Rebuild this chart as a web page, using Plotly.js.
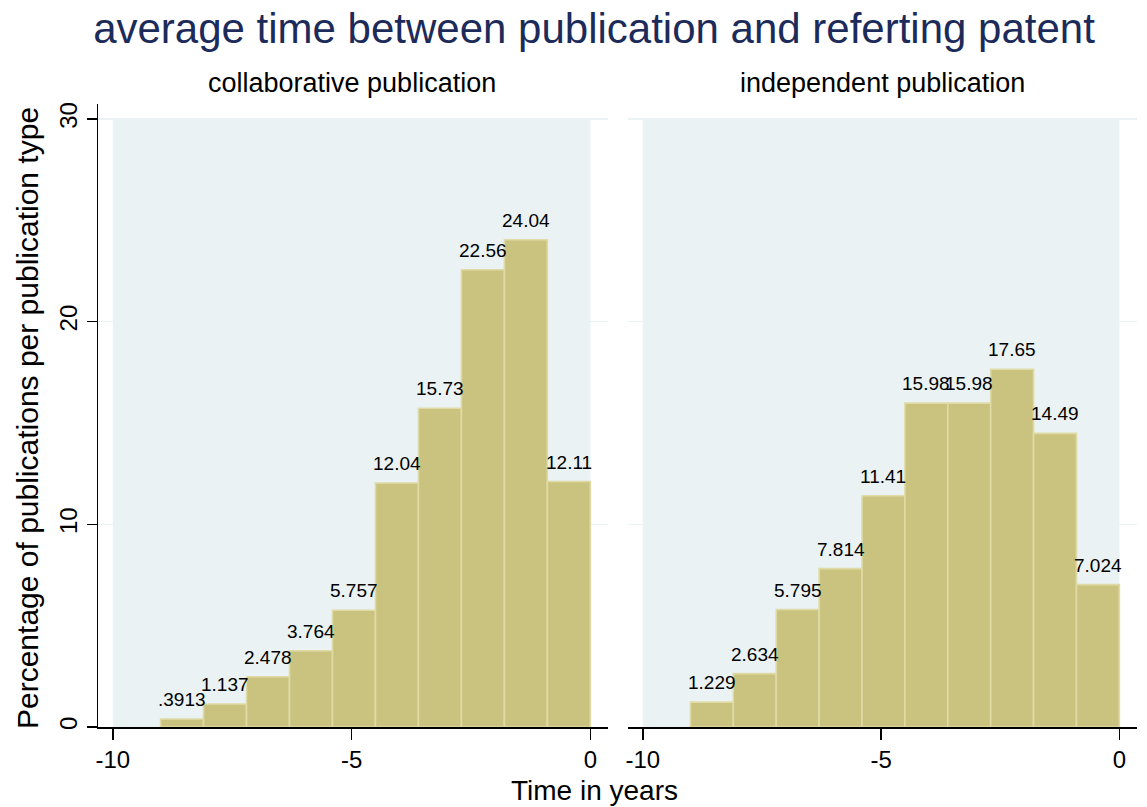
<!DOCTYPE html>
<html>
<head>
<meta charset="utf-8">
<script src="https://cdn.plot.ly/plotly-3.0.1.min.js"></script>
<style>html,body{margin:0;padding:0;background:#fff;}#chart{width:1147px;height:807px;}</style>
</head>
<body>
<div id="chart"></div>
<script>
// Bin left edges (years), bin width 0.9
const binStarts = [-9, -8.1, -7.2, -6.3, -5.4, -4.5, -3.6, -2.7, -1.8, -0.9];
const collaborative = [0.3913, 1.137, 2.478, 3.764, 5.757, 12.04, 15.73, 22.56, 24.04, 12.11];
const independent = [1.229, 2.634, 5.795, 7.814, 11.41, 15.98, 15.98, 17.65, 14.49, 7.024];
const yTicks = [0, 10, 20, 30];
const xTicks = [-10, -5, 0];
const panelTitles = ["collaborative publication", "independent publication"];

const W = 1147, H = 807;
const FONT = "Liberation Sans, Arial, sans-serif";
const barFill = "rgb(202,195,128)";
const barEdge = "rgb(224,219,166)";
const bgFill = "rgb(234,242,243)";
const BW = 0.9;

function fmt(v) { return String(v).replace(/^0\./, "."); }

function barTrace(vals, xa, ya) {
  return {
    type: "bar", x: binStarts, y: vals, xaxis: xa, yaxis: ya,
    width: BW, offset: 0,
    marker: { color: barFill, line: { color: barEdge, width: 1.6 } },
    hoverinfo: "skip", showlegend: false
  };
}

function labelAnns(vals, xa, ya) {
  return vals.map((v, i) => ({
    text: fmt(v), xref: xa, yref: ya, x: binStarts[i] + BW / 2, y: v,
    xanchor: "center", yanchor: "bottom", yshift: 7, showarrow: false,
    font: { family: FONT, size: 19, color: "#000" }
  }));
}

const xr = [-10.31, 0.37];
const yr = [0, 30.74];
const yDom = [1 - 727 / H, 1 - 104 / H];

function xAxis(domain, anchor) {
  return {
    domain: domain, range: xr, anchor: anchor,
    tickvals: xTicks, ticktext: xTicks.map(String),
    ticks: "outside", ticklen: 11, tickwidth: 1.5, tickcolor: "#000",
    showline: true, linecolor: "#000", linewidth: 1.5,
    showgrid: false, zeroline: false,
    tickfont: { family: FONT, size: 24, color: "#000" }, fixedrange: true
  };
}

const layout = {
  width: W, height: H,
  margin: { l: 0, r: 0, t: 0, b: 0 },
  paper_bgcolor: "#fff", plot_bgcolor: "#fff",
  bargap: 0,
  title: {
    text: "average time between publication and referting patent",
    font: { family: FONT, size: 42, color: "#1c2b5a" },
    x: 594 / W, xanchor: "center", xref: "paper",
    y: 1 - 28 / H, yanchor: "middle", yref: "container"
  },
  xaxis: xAxis([98 / W, 608 / W], "y"),
  xaxis2: xAxis([628 / W, 1137 / W], "y2"),
  yaxis: {
    domain: yDom, range: yr, anchor: "x",
    tickvals: yTicks, ticktext: yTicks.map(String), tickangle: -90,
    ticks: "outside", ticklen: 10, tickwidth: 1.5, tickcolor: "#000",
    showline: true, linecolor: "#000", linewidth: 1.5,
    showgrid: true, gridcolor: bgFill, gridwidth: 1.2, zeroline: false,
    tickfont: { family: FONT, size: 24, color: "#000" }, fixedrange: true
  },
  yaxis2: {
    domain: yDom, range: yr, anchor: "x2",
    tickvals: yTicks, showticklabels: false, ticks: "",
    showline: false, showgrid: true, gridcolor: bgFill, gridwidth: 1.2, zeroline: false,
    fixedrange: true
  },
  shapes: [
    { type: "rect", xref: "x", yref: "y", x0: -10, x1: 0, y0: 0, y1: 30, fillcolor: bgFill, line: { width: 0 }, layer: "below" },
    { type: "rect", xref: "x2", yref: "y2", x0: -10, x1: 0, y0: 0, y1: 30, fillcolor: bgFill, line: { width: 0 }, layer: "below" }
  ],
  annotations: [
    { text: panelTitles[0], xref: "paper", yref: "paper", x: 352 / W, y: 1 - 83 / H, xanchor: "center", yanchor: "middle", showarrow: false, font: { family: FONT, size: 27, color: "#000" } },
    { text: panelTitles[1], xref: "paper", yref: "paper", x: 882 / W, y: 1 - 83 / H, xanchor: "center", yanchor: "middle", showarrow: false, font: { family: FONT, size: 27, color: "#000" } },
    { text: "Percentage of publications per publication type", xref: "paper", yref: "paper", x: 27 / W, y: 1 - 418 / H, xanchor: "center", yanchor: "middle", textangle: -90, showarrow: false, font: { family: FONT, size: 30, color: "#000" } },
    { text: "Time in years", xref: "paper", yref: "paper", x: 594 / W, y: 1 - 790 / H, xanchor: "center", yanchor: "middle", showarrow: false, font: { family: FONT, size: 28, color: "#000" } }
  ].concat(labelAnns(collaborative, "x", "y"), labelAnns(independent, "x2", "y2"))
};

Plotly.newPlot("chart", [barTrace(collaborative, "x", "y"), barTrace(independent, "x2", "y2")], layout, { displayModeBar: false, staticPlot: true });
</script>
</body>
</html>
